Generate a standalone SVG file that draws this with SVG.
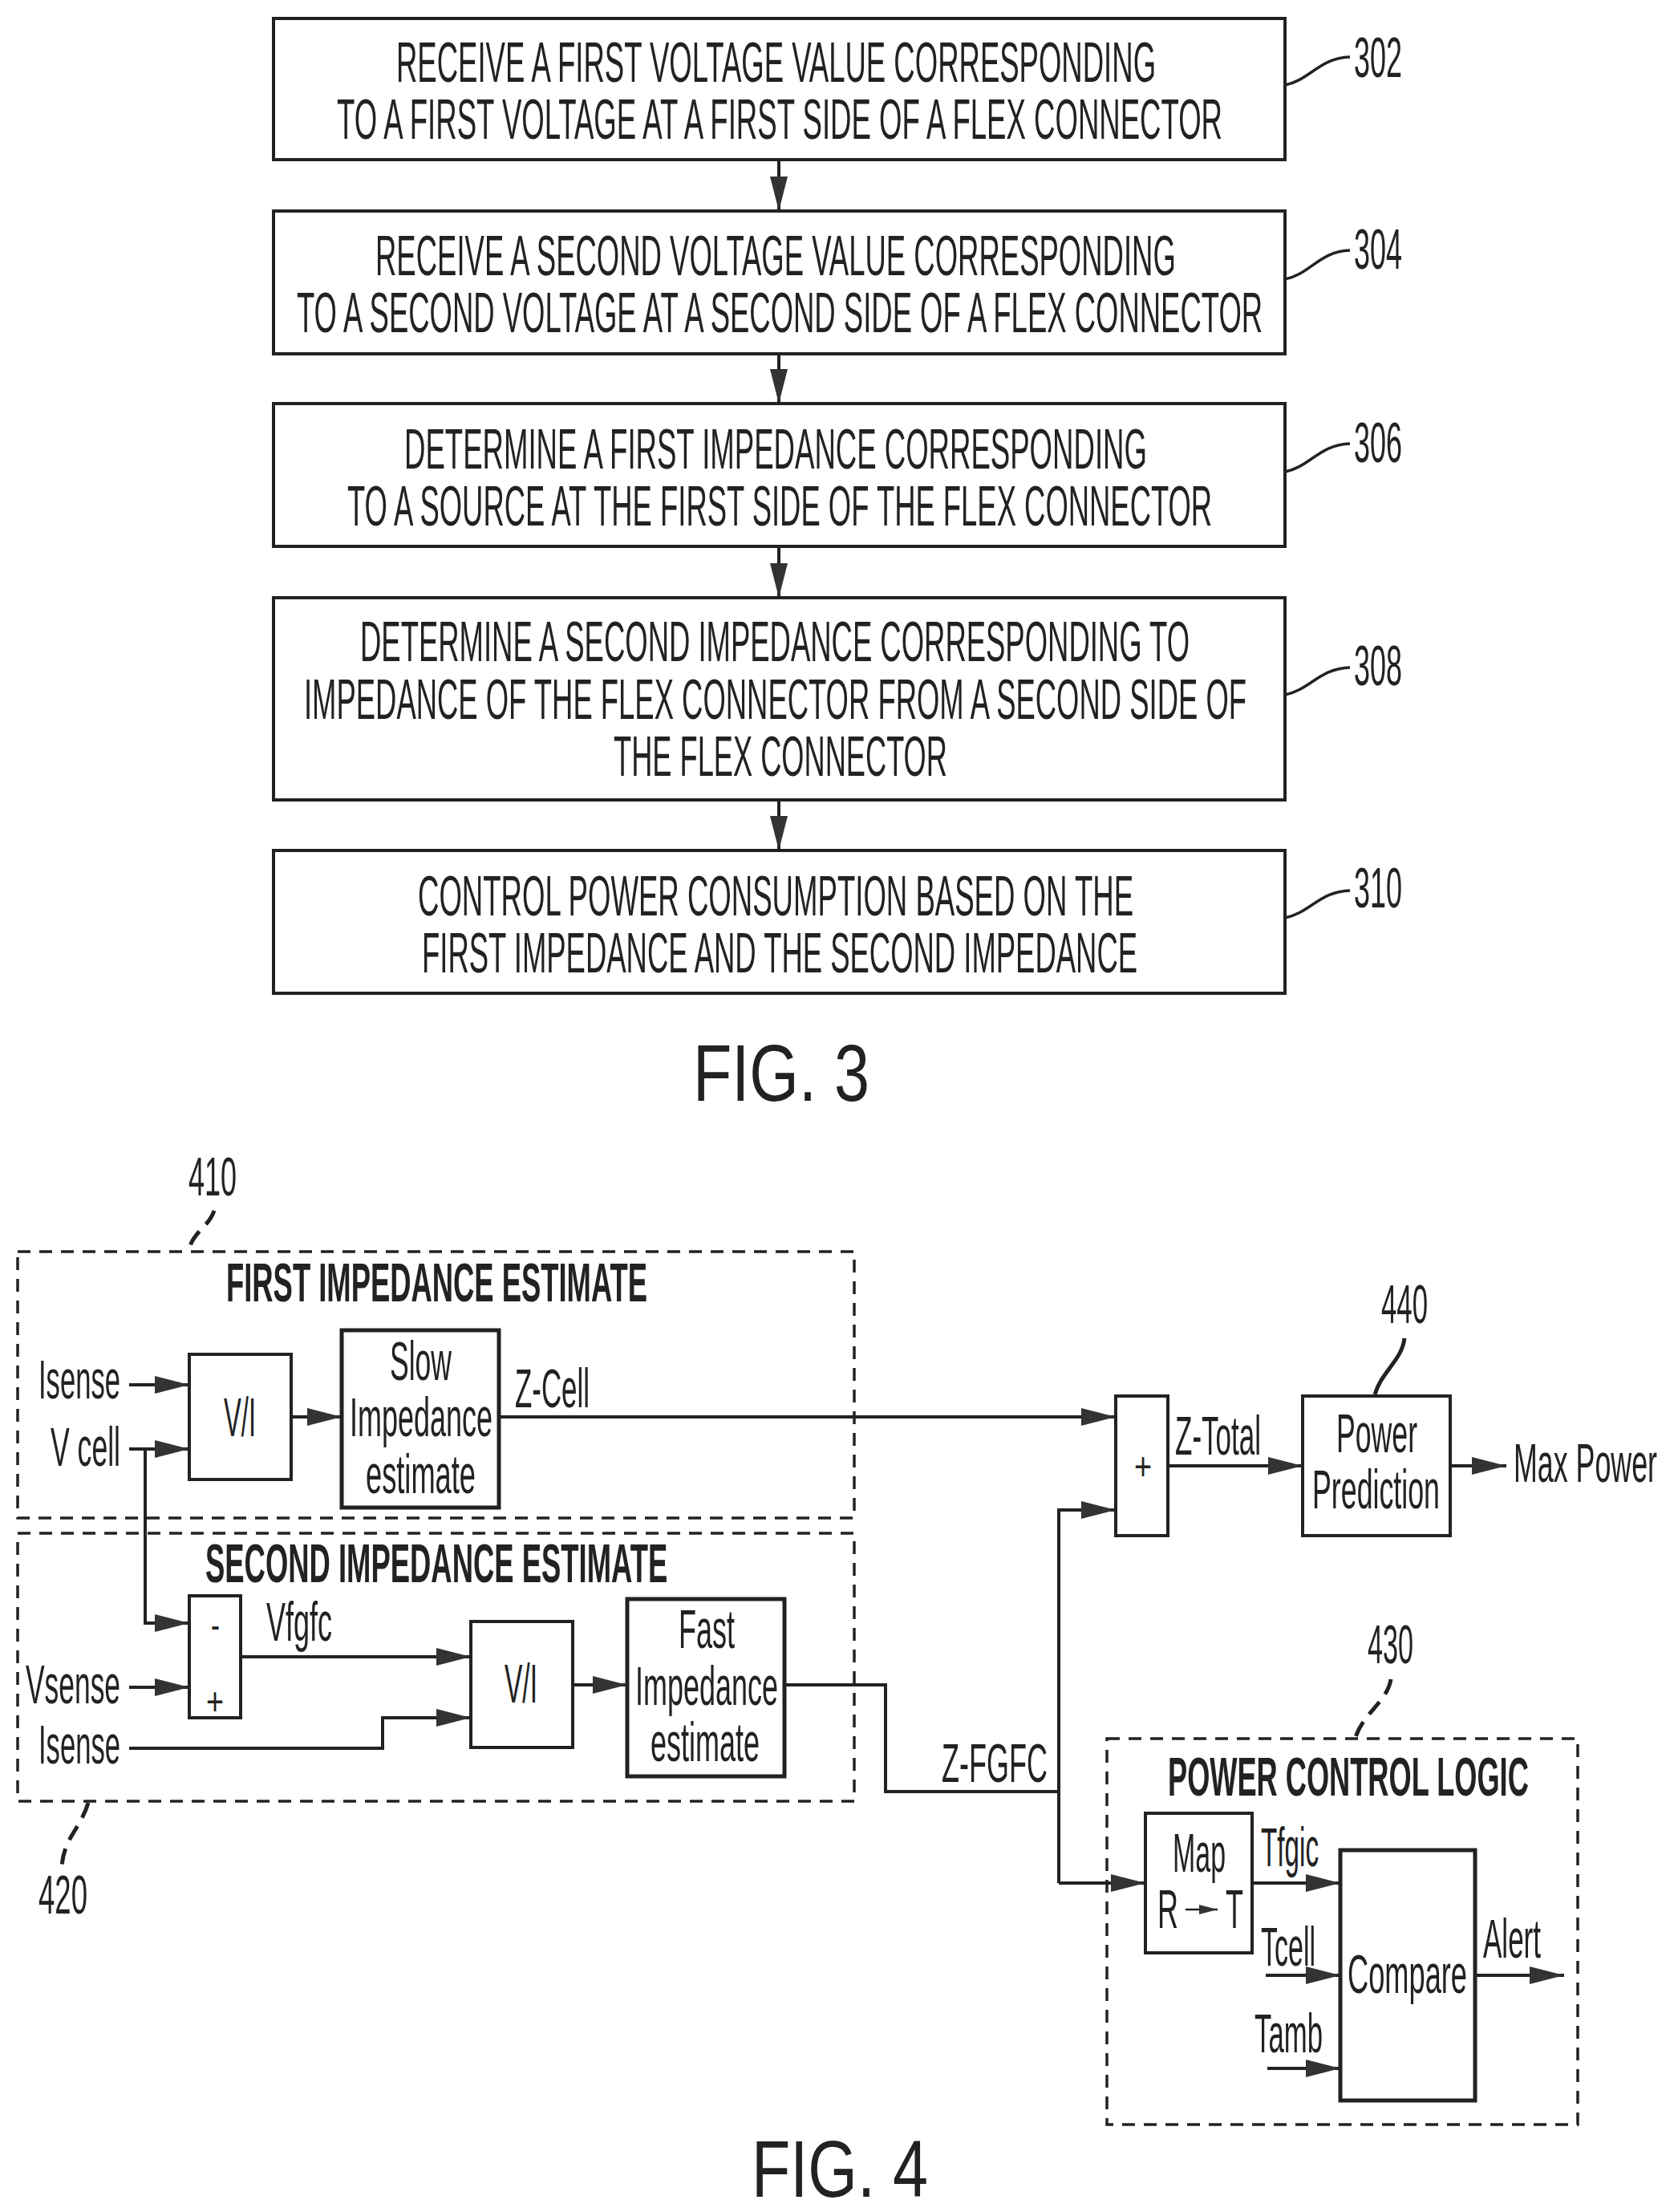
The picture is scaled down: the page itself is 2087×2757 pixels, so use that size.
<svg xmlns="http://www.w3.org/2000/svg" width="2087" height="2757" viewBox="0 0 2087 2757">
<style>
text{font-family:"Liberation Sans",Arial,sans-serif;font-size:68px;fill:#222}
.cap{font-size:70px}
.b{font-weight:bold}
.fig{font-size:100px}
.sym{font-size:48px}
.box{fill:#fff;stroke:#222;stroke-width:4}
.thick{fill:#fff;stroke:#222;stroke-width:5}
.dash{fill:none;stroke:#222;stroke-width:3.5;stroke-dasharray:16 11}
.wire{fill:none;stroke:#222;stroke-width:4}
.arrow{marker-end:url(#head)}
.lead{fill:none;stroke:#222;stroke-width:3.5}
.leaddash{fill:none;stroke:#222;stroke-width:5;stroke-dasharray:20 12}
</style>
<defs>
<marker id="head" markerUnits="userSpaceOnUse" markerWidth="44" markerHeight="24" refX="43" refY="12" orient="auto"><path d="M0 1L43 12L0 23Z" fill="#333"/></marker>
<marker id="small" markerUnits="userSpaceOnUse" markerWidth="24" markerHeight="14" refX="23" refY="7" orient="auto"><path d="M0 1L23 7L0 13Z" fill="#333"/></marker>
</defs>
<rect width="2087" height="2757" fill="#fff"/>
<g id="connectors">
<path class="wire arrow" d="M971 199V263"/>
<path class="wire arrow" d="M971 441V503"/>
<path class="wire arrow" d="M971 681V745"/>
<path class="wire arrow" d="M971 997V1060"/>
<path class="wire arrow" d="M161 1726H236"/>
<path class="wire arrow" d="M161 1806H236"/>
<path class="wire arrow" d="M181 1806V2023H236"/>
<path class="wire arrow" d="M363 1766H426"/>
<path class="wire arrow" d="M622 1766H1391"/>
<path class="wire arrow" d="M161 2103H236"/>
<path class="wire arrow" d="M300 2065H587"/>
<path class="wire arrow" d="M161 2179H477V2141H587"/>
<path class="wire arrow" d="M714 2100H782"/>
<path class="wire" d="M978 2100H1104V2233H1320"/>
<path class="wire arrow" d="M1320 2347V1882H1391"/>
<path class="wire arrow" d="M1320 2347H1428"/>
<path class="wire arrow" d="M1456 1827H1624"/>
<path class="wire arrow" d="M1808 1827H1878"/>
<path class="wire arrow" d="M1561 2347H1671"/>
<path class="wire arrow" d="M1578 2462H1671"/>
<path class="wire arrow" d="M1580 2578H1671"/>
<path class="wire arrow" d="M1839 2462H1950"/>
</g>
<g id="n302"><rect class="box" x="341" y="23" width="1261" height="176"/>
<text class="cap" transform="translate(494 102) scale(.47 1)" textLength="2015" lengthAdjust="spacingAndGlyphs">RECEIVE A FIRST VOLTAGE VALUE CORRESPONDING</text>
<text class="cap" transform="translate(420 173) scale(.47 1)" textLength="2349" lengthAdjust="spacingAndGlyphs">TO A FIRST VOLTAGE AT A FIRST SIDE OF A FLEX CONNECTOR</text>
<path class="lead" d="M1602 106C1633 100 1645 72 1683 71"/>
<text class="cap" transform="translate(1688 96) scale(.5 1)" textLength="120" lengthAdjust="spacingAndGlyphs">302</text></g>
<g id="n304"><rect class="box" x="341" y="263" width="1261" height="178"/>
<text class="cap" transform="translate(468 343) scale(.47 1)" textLength="2123" lengthAdjust="spacingAndGlyphs">RECEIVE A SECOND VOLTAGE VALUE CORRESPONDING</text>
<text class="cap" transform="translate(370 414) scale(.47 1)" textLength="2562" lengthAdjust="spacingAndGlyphs">TO A SECOND VOLTAGE AT A SECOND SIDE OF A FLEX CONNECTOR</text>
<path class="lead" d="M1602 348C1633 342 1645 313 1683 312"/>
<text class="cap" transform="translate(1688 335) scale(.5 1)" textLength="120" lengthAdjust="spacingAndGlyphs">304</text></g>
<g id="n306"><rect class="box" x="341" y="503" width="1261" height="178"/>
<text class="cap" transform="translate(504 584) scale(.47 1)" textLength="1970" lengthAdjust="spacingAndGlyphs">DETERMINE A FIRST IMPEDANCE CORRESPONDING</text>
<text class="cap" transform="translate(433 655) scale(.47 1)" textLength="2294" lengthAdjust="spacingAndGlyphs">TO A SOURCE AT THE FIRST SIDE OF THE FLEX CONNECTOR</text>
<path class="lead" d="M1602 588C1633 582 1645 554 1683 553"/>
<text class="cap" transform="translate(1688 576) scale(.5 1)" textLength="120" lengthAdjust="spacingAndGlyphs">306</text></g>
<g id="n308"><rect class="box" x="341" y="745" width="1261" height="252"/>
<text class="cap" transform="translate(449 824) scale(.47 1)" textLength="2200" lengthAdjust="spacingAndGlyphs">DETERMINE A SECOND IMPEDANCE CORRESPONDING TO</text>
<text class="cap" transform="translate(379 896) scale(.47 1)" textLength="2500" lengthAdjust="spacingAndGlyphs">IMPEDANCE OF THE FLEX CONNECTOR FROM A SECOND SIDE OF</text>
<text class="cap" transform="translate(765 967) scale(.47 1)" textLength="885" lengthAdjust="spacingAndGlyphs">THE FLEX CONNECTOR</text>
<path class="lead" d="M1602 866C1633 860 1645 833 1683 832"/>
<text class="cap" transform="translate(1688 854) scale(.5 1)" textLength="120" lengthAdjust="spacingAndGlyphs">308</text></g>
<g id="n310"><rect class="box" x="341" y="1060" width="1261" height="178"/>
<text class="cap" transform="translate(521 1141) scale(.47 1)" textLength="1898" lengthAdjust="spacingAndGlyphs">CONTROL POWER CONSUMPTION BASED ON THE</text>
<text class="cap" transform="translate(526 1212) scale(.47 1)" textLength="1898" lengthAdjust="spacingAndGlyphs">FIRST IMPEDANCE AND THE SECOND IMPEDANCE</text>
<path class="lead" d="M1602 1144C1633 1138 1645 1111 1683 1110"/>
<text class="cap" transform="translate(1688 1131) scale(.5 1)" textLength="120" lengthAdjust="spacingAndGlyphs">310</text></g>
<text class="fig" transform="translate(864 1372) scale(.8 1)" textLength="275" lengthAdjust="spacingAndGlyphs">FIG. 3</text>

<g id="n410"><rect class="dash" x="22" y="1560" width="1043" height="332"/>
<text class="b" transform="translate(282 1622) scale(.47 1)" textLength="1117" lengthAdjust="spacingAndGlyphs">FIRST IMPEDANCE ESTIMATE</text>
<path class="leaddash" d="M267 1509C260 1530 240 1535 235 1560"/>
<text transform="translate(235 1490) scale(.5 1)" textLength="120" lengthAdjust="spacingAndGlyphs">410</text></g>
<g id="n420"><rect class="dash" x="22" y="1911" width="1043" height="334"/>
<text class="b" transform="translate(256 1972) scale(.47 1)" textLength="1226" lengthAdjust="spacingAndGlyphs">SECOND IMPEDANCE ESTIMATE</text>
<path class="leaddash" d="M110 2247C100 2280 80 2290 77 2326"/>
<text transform="translate(48 2385) scale(.5 1)" textLength="122" lengthAdjust="spacingAndGlyphs">420</text></g>
<g id="labels-in">
<text transform="translate(48 1743) scale(.5 1)" textLength="204" lengthAdjust="spacingAndGlyphs">Isense</text>
<text transform="translate(63 1827) scale(.5 1)" textLength="174" lengthAdjust="spacingAndGlyphs">V cell</text>
<text transform="translate(32 2123) scale(.5 1)" textLength="236" lengthAdjust="spacingAndGlyphs">Vsense</text>
<text transform="translate(48 2198) scale(.5 1)" textLength="204" lengthAdjust="spacingAndGlyphs">Isense</text>
<text transform="translate(332 2045) scale(.5 1)" textLength="164" lengthAdjust="spacingAndGlyphs">Vfgfc</text>
<text transform="translate(642 1754) scale(.5 1)" textLength="186" lengthAdjust="spacingAndGlyphs">Z-Cell</text>
<text transform="translate(1174 2221) scale(.5 1)" textLength="264" lengthAdjust="spacingAndGlyphs">Z-FGFC</text>
<text transform="translate(1465 1813) scale(.5 1)" textLength="214" lengthAdjust="spacingAndGlyphs">Z-Total</text>
<text transform="translate(1887 1847) scale(.5 1)" textLength="358" lengthAdjust="spacingAndGlyphs">Max Power</text>
</g>
<g id="vi1"><rect class="box" x="236" y="1688" width="127" height="156"/>
<text transform="translate(279 1790) scale(.5 1)" textLength="80" lengthAdjust="spacingAndGlyphs">V/I</text></g>
<g id="slow"><rect class="thick" x="426" y="1658" width="196" height="221"/>
<text transform="translate(486 1720) scale(.5 1)" textLength="154" lengthAdjust="spacingAndGlyphs">Slow</text>
<text transform="translate(436 1790) scale(.5 1)" textLength="356" lengthAdjust="spacingAndGlyphs">Impedance</text>
<text transform="translate(456 1861) scale(.5 1)" textLength="274" lengthAdjust="spacingAndGlyphs">estimate</text></g>
<g id="diff"><rect class="box" x="236" y="1989" width="64" height="152"/>
<text class="sym" x="263" y="2042" textLength="11" lengthAdjust="spacingAndGlyphs">-</text>
<text class="sym" x="257" y="2137" textLength="22" lengthAdjust="spacingAndGlyphs">+</text></g>
<g id="vi2"><rect class="box" x="587" y="2021" width="127" height="157"/>
<text transform="translate(629 2122) scale(.5 1)" textLength="82" lengthAdjust="spacingAndGlyphs">V/I</text></g>
<g id="fast"><rect class="thick" x="782" y="1993" width="196" height="221"/>
<text transform="translate(846 2054) scale(.5 1)" textLength="140" lengthAdjust="spacingAndGlyphs">Fast</text>
<text transform="translate(792 2125) scale(.5 1)" textLength="356" lengthAdjust="spacingAndGlyphs">Impedance</text>
<text transform="translate(811 2195) scale(.5 1)" textLength="272" lengthAdjust="spacingAndGlyphs">estimate</text></g>
<g id="sum"><rect class="box" x="1391" y="1740" width="65" height="174"/>
<text class="sym" x="1414" y="1844" textLength="22" lengthAdjust="spacingAndGlyphs">+</text></g>
<g id="n440"><rect class="box" x="1624" y="1740" width="184" height="174"/>
<text transform="translate(1666 1810) scale(.5 1)" textLength="202" lengthAdjust="spacingAndGlyphs">Power</text>
<text transform="translate(1636 1880) scale(.5 1)" textLength="318" lengthAdjust="spacingAndGlyphs">Prediction</text>
<path class="lead" style="stroke-width:5" d="M1751 1668C1748 1695 1722 1710 1714 1738"/>
<text transform="translate(1722 1649) scale(.5 1)" textLength="116" lengthAdjust="spacingAndGlyphs">440</text></g>
<g id="n430"><rect class="dash" x="1380" y="2167" width="587" height="481"/>
<text class="b" transform="translate(1456 2238) scale(.47 1)" textLength="957" lengthAdjust="spacingAndGlyphs">POWER CONTROL LOGIC</text>
<path class="leaddash" d="M1734 2093C1730 2120 1700 2135 1690 2165"/>
<text transform="translate(1705 2073) scale(.5 1)" textLength="114" lengthAdjust="spacingAndGlyphs">430</text></g>
<g id="map"><rect class="box" x="1428" y="2260" width="133" height="174"/>
<text transform="translate(1462 2333) scale(.5 1)" textLength="132" lengthAdjust="spacingAndGlyphs">Map</text>
<text transform="translate(1443 2403) scale(.5 1)" textLength="52" lengthAdjust="spacingAndGlyphs">R</text>
<path d="M1478 2380H1518" fill="none" stroke="#222" stroke-width="2.5" marker-end="url(#small)"/>
<text transform="translate(1528 2403) scale(.5 1)" textLength="44" lengthAdjust="spacingAndGlyphs">T</text></g>
<g id="compare"><rect class="thick" x="1671" y="2306" width="168" height="312"/>
<text transform="translate(1680 2484) scale(.5 1)" textLength="298" lengthAdjust="spacingAndGlyphs">Compare</text></g>
<text transform="translate(1572 2326) scale(.5 1)" textLength="144" lengthAdjust="spacingAndGlyphs">Tfgic</text>
<text transform="translate(1572 2450) scale(.5 1)" textLength="136" lengthAdjust="spacingAndGlyphs">Tcell</text>
<text transform="translate(1564 2558) scale(.5 1)" textLength="170" lengthAdjust="spacingAndGlyphs">Tamb</text>
<text transform="translate(1849 2440) scale(.5 1)" textLength="144" lengthAdjust="spacingAndGlyphs">Alert</text>
<text class="fig" transform="translate(937 2738) scale(.8 1)" textLength="275" lengthAdjust="spacingAndGlyphs">FIG. 4</text>
</svg>
